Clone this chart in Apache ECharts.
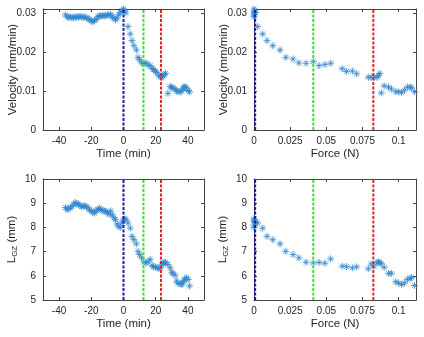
<!DOCTYPE html>
<html>
<head>
<meta charset="utf-8">
<script src="https://cdn.jsdelivr.net/npm/echarts@6/dist/echarts.min.js"></script>
<style>
    html, body { margin: 0; padding: 0; background: #fff; }
    #chart { width: 424px; height: 337px; }
</style>
</head>
<body>
<div id="chart"></div>
<script>
    // left column: time series (min)
    var time = [-36, -35, -34, -33, -32, -31, -30, -29, -28, -27, -26, -25, -24, -23, -22, -21, -20, -19,
        -18, -17, -16, -15, -14, -13, -12, -11, -10, -9, -8, -7, -6, -5, -4, -3, -2, -1,
        0, 0.5, 1.5, 2.8, 4.2, 5.3, 6.5, 8.0, 9.0, 10.0, 11.3, 12.7, 14.0, 15.3, 16.6, 17.8, 18.7, 19.8,
        20.8, 22.0, 22.8, 23.8, 24.5, 25.3, 26.1, 27.6, 29.0, 30.0, 30.7, 32.1, 33.0, 33.8, 35.2, 36.2,
        36.9, 37.5, 38.1, 39.0, 40.2, 41.0];
    var velocityT = [0.0295, 0.0290, 0.0288, 0.0290, 0.0287, 0.0289, 0.0288, 0.0290, 0.0289, 0.0291, 0.0290, 0.0288,
        0.0290, 0.0287, 0.0285, 0.0283, 0.0279, 0.0277, 0.0281, 0.0283, 0.0290, 0.0293, 0.0291, 0.0294,
        0.0292, 0.0293, 0.0295, 0.0294, 0.0297, 0.0290, 0.0286, 0.0282, 0.0287, 0.0295, 0.0301, 0.0306,
        0.0310, 0.0305, 0.0300, 0.0265, 0.0246, 0.0229, 0.0216, 0.0205, 0.0186, 0.0180, 0.0172, 0.0170,
        0.0172, 0.0166, 0.0165, 0.0158, 0.0155, 0.0150, 0.0147, 0.0140, 0.0137, 0.0135, 0.0138, 0.0142,
        0.0145, 0.0094, 0.0111, 0.0110, 0.0107, 0.0105, 0.0100, 0.0099, 0.0097, 0.0100, 0.0105, 0.0110,
        0.0111, 0.0108, 0.0101, 0.0098];
    var lengthT = [8.82, 8.73, 8.78, 8.80, 8.88, 8.93, 9.03, 8.98, 8.96, 8.90, 8.86, 8.88, 8.90, 8.85, 8.80, 8.72,
        8.68, 8.62, 8.59, 8.70, 8.73, 8.79, 8.75, 8.70, 8.68, 8.66, 8.60, 8.55, 8.68, 8.52, 8.40, 8.32,
        8.14, 8.05, 8.00, 8.18,
        8.30, 8.35, 8.33, 8.18, 7.97, 7.63, 7.49, 7.32, 7.01, 6.88, 6.74, 6.56, 6.53, 6.58, 6.68, 6.42,
        6.38, 6.36, 6.33, 6.30, 6.32, 6.45, 6.53, 6.56, 6.55, 6.47, 6.33, 6.15, 6.10, 6.02, 5.78, 5.70,
        5.66, 5.64, 5.71, 5.80, 5.87, 5.92, 5.85, 5.58];

    // right column: against force (N)
    var force = [0, 0, 0, 0, 0.0005, 0.001,
        0.0025, 0.006, 0.009, 0.013, 0.018, 0.022, 0.027, 0.031, 0.036, 0.041, 0.045, 0.049, 0.053,
        0.061, 0.064, 0.068, 0.071, 0.079, 0.081, 0.083, 0.085, 0.086, 0.087, 0.088, 0.090, 0.093,
        0.095, 0.098, 0.100, 0.102, 0.104, 0.106, 0.108, 0.109, 0.111];
    var velocityF = [0.0310, 0.0300, 0.0295, 0.0290, 0.0305, 0.0301,
        0.0265, 0.0246, 0.0229, 0.0216, 0.0205, 0.0186, 0.0182, 0.0172, 0.0171, 0.0175, 0.0165, 0.0168,
        0.0171, 0.0157, 0.0150, 0.0151, 0.0144, 0.0135, 0.0135, 0.0135, 0.0135, 0.0140, 0.0145, 0.0095,
        0.0113, 0.0110, 0.0105, 0.0098, 0.0098, 0.0096, 0.0102, 0.0110, 0.0110, 0.0108, 0.0098];
    var lengthF = [8.30, 8.35, 8.10, 8.00, 8.25, 8.20,
        8.18, 7.97, 7.63, 7.49, 7.32, 7.01, 6.88, 6.74, 6.56, 6.53, 6.55, 6.52, 6.70, 6.40, 6.38, 6.33,
        6.37, 6.29, 6.49, 6.40, 6.55, 6.57, 6.55, 6.50, 6.35, 6.10, 6.10, 5.75, 5.70, 5.64, 5.70, 5.85,
        5.90, 5.92, 5.60];

    var timeTicks = [-40, -20, 0, 20, 40];
    var timeMarks = [0, 12.4, 23.3];
    var forceMarks = [0.0008, 0.041, 0.0825];
    var markColors = ['#1c1ca8', '#3ddc3d', '#e02626'];

    var starColor = '#2f86cc';
    var asterisk = 'path://M5,0L5,10M0,5L10,5M1.5,1.5L8.5,8.5M1.5,8.5L8.5,1.5';
    var font = 'Liberation Sans, Arial, sans-serif';
    var textColor = '#262626';
    var tickFont = 10;
    var nameFont = 11.5;

    var grids = [
        {left: 43, top: 9, width: 161, height: 121},
        {left: 254, top: 9, width: 162, height: 121},
        {left: 43, top: 179, width: 161, height: 121},
        {left: 254, top: 179, width: 162, height: 121}
    ];

    var xAxes = [], yAxes = [], series = [];

    function addPanel(idx, xs, ys, marks, xCfg, yCfg, xName, yName) {
        // main axes (bottom/left) with labels
        xAxes.push(Object.assign({
            type: 'value', gridIndex: idx, position: 'bottom',
            name: xName, nameLocation: 'middle', nameGap: 18, nameMoveOverlap: false,
            nameTextStyle: {fontSize: nameFont, color: textColor, fontFamily: font},
            axisLine: {show: true, onZero: false, lineStyle: {color: '#444', width: 1}},
            axisTick: {show: true, inside: true, length: 3, lineStyle: {color: '#444'}},
            axisLabel: {fontSize: tickFont, color: textColor, fontFamily: font, margin: 6},
            splitLine: {show: false}
        }, xCfg));
        yAxes.push(Object.assign({
            type: 'value', gridIndex: idx, position: 'left',
            name: yName, nameLocation: 'middle', nameGap: 24, nameMoveOverlap: false,
            nameTextStyle: {fontSize: nameFont, color: textColor, fontFamily: font,
                rich: {
                    a: {fontSize: nameFont, color: textColor, fontFamily: font},
                    s: {fontSize: 8, color: textColor, fontFamily: font, verticalAlign: 'bottom', padding: [7, 0, 0, 0]}
                }},
            axisLine: {show: true, onZero: false, lineStyle: {color: '#444', width: 1}},
            axisTick: {show: true, inside: true, length: 3, lineStyle: {color: '#444'}},
            axisLabel: {fontSize: tickFont, color: textColor, fontFamily: font, margin: 7},
            splitLine: {show: false}
        }, yCfg));
        // mirrored axes (top/right) for the box with ticks
        xAxes.push(Object.assign({
            type: 'value', gridIndex: idx, position: 'top',
            axisLine: {show: true, onZero: false, lineStyle: {color: '#444', width: 1}},
            axisTick: {show: true, inside: true, length: 3, lineStyle: {color: '#444'}},
            splitLine: {show: false}
        }, xCfg, {axisLabel: {show: false}}));
        yAxes.push(Object.assign({
            type: 'value', gridIndex: idx, position: 'right',
            axisLine: {show: true, onZero: false, lineStyle: {color: '#444', width: 1}},
            axisTick: {show: true, inside: true, length: 3, lineStyle: {color: '#444'}},
            splitLine: {show: false}
        }, yCfg, {axisLabel: {show: false}}));

        var axisIdx = idx * 2;
        marks.forEach(function (m, i) {
            series.push({
                type: 'line', xAxisIndex: axisIdx, yAxisIndex: axisIdx,
                data: [[m, yCfg.min], [m, yCfg.max]],
                symbol: 'none', silent: true, z: 3,
                lineStyle: {color: markColors[i], width: 2, type: [3, 1.5]}
            });
        });
        series.push({
            type: 'scatter', xAxisIndex: axisIdx, yAxisIndex: axisIdx,
            data: xs.map(function (x, i) { return [x, ys[i]]; }),
            symbol: asterisk, symbolSize: 7, z: 2,
            itemStyle: {color: 'rgba(0,0,0,0)', borderColor: starColor, borderWidth: 1}
        });
    }

    var forceAxis = {min: 0, max: 0.112, interval: 0.025};
    var velAxis = {min: 0, max: 0.031, interval: 0.01};
    var lenAxis = {min: 5, max: 10, interval: 1};

    // time axis: range -50..50, ticks only at -40..40; its labels come from a helper axis below
    function timeCfg() {
        return {
            min: -50, max: 50, interval: 10,
            axisLabel: {show: false},
            axisTick: {show: true, inside: true, length: 3, lineStyle: {color: '#444'}, customValues: timeTicks}
        };
    }

    addPanel(0, time, velocityT, timeMarks, timeCfg(), velAxis, 'Time (min)', 'Velocity (mm/min)');
    addPanel(1, force, velocityF, forceMarks, forceAxis, velAxis, 'Force (N)', 'Velocity (mm/min)');
    addPanel(2, time, lengthT, timeMarks, timeCfg(), lenAxis, 'Time (min)', '{a|L}{s|GZ}{a| (mm)}');
    addPanel(3, force, lengthF, forceMarks, forceAxis, lenAxis, 'Force (N)', '{a|L}{s|GZ}{a| (mm)}');

    // label-only axes spanning -40..40 of the time panels (grid 4 and 5)
    [0, 2].forEach(function (g) {
        var src = grids[g];
        var span = src.width * 80 / 100;
        grids.push({left: src.left + (src.width - span) / 2, top: src.top, width: span, height: src.height});
        var gi = grids.length - 1;
        xAxes.push({
            type: 'value', gridIndex: gi, position: 'bottom',
            min: timeTicks[0], max: timeTicks[timeTicks.length - 1], interval: 20,
            axisLine: {show: false}, axisTick: {show: false}, splitLine: {show: false},
            axisLabel: {fontSize: tickFont, color: textColor, fontFamily: font, margin: 6}
        });
        yAxes.push({type: 'value', gridIndex: gi, show: false, min: 0, max: 1});
    });

    var myChart = echarts.init(document.getElementById('chart'));
    myChart.setOption({
        backgroundColor: '#fff',
        animation: false,
        grid: grids,
        xAxis: xAxes,
        yAxis: yAxes,
        series: series
    });
</script>
</body>
</html>
